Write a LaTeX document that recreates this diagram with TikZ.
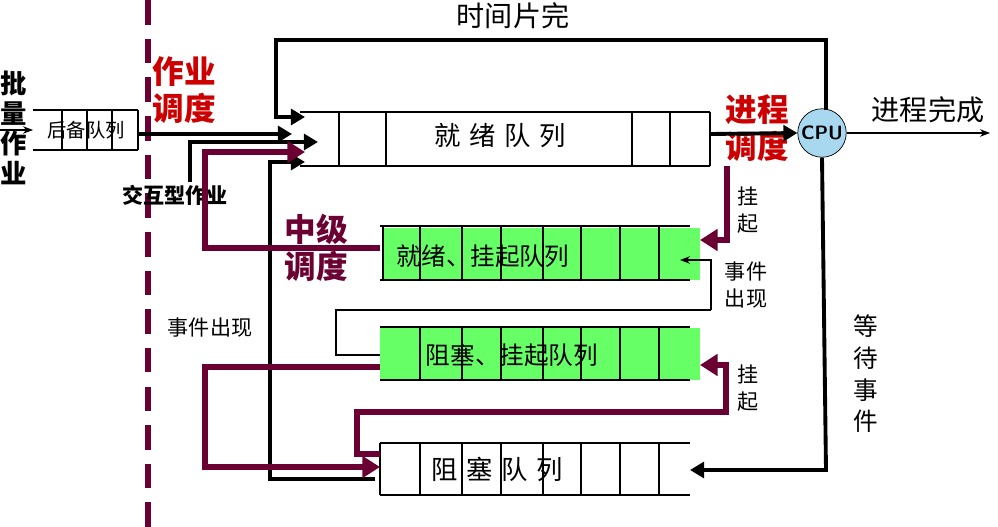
\documentclass[tikz,border=0pt]{standalone}
\usepackage{fontspec}
\setmainfont{Noto Sans CJK SC}
\usetikzlibrary{arrows.meta}
\definecolor{maroon}{HTML}{6B0032}
\definecolor{redlab}{HTML}{CC0000}
\definecolor{qgreen}{HTML}{66FF66}
\definecolor{cpublue}{HTML}{A8D8F0}
\tikzstyle{lab}=[font=\fontsize{12}{15}\selectfont, inner sep=0pt]
\tikzstyle{biglab}=[font=\bfseries\fontsize{18}{21}\selectfont, inner sep=0pt, align=center, text=redlab]
\tikzstyle{flow}=[line width=2.2pt, -{Triangle[length=8pt,width=9pt]}]
\tikzstyle{mflow}=[line width=3pt, maroon, -{Triangle[length=10pt,width=12pt]}]
\tikzstyle{thin}=[line width=0.6pt]

\begin{document}
\begin{tikzpicture}[x=0.02cm, y=-0.02cm]
  \useasboundingbox (0,0) rectangle (998,527);
  % dashed divider
  \draw[maroon, line width=3pt, dash pattern=on 14pt off 8pt] (148,0) -- (148,527);
  % backup queue
  \draw[thin] (33,110) -- (138,110) (33,150) -- (138,150);
  \foreach \x in {62,87,112,138} \draw[thin] (\x,110) -- (\x,150);
  \node[lab, font=\fontsize{11}{13}\selectfont] (backup) at (86,130) {后备队列};
  \node[lab, align=center, font=\bfseries\fontsize{15}{17}\selectfont] (batch) at (14,128) {批\\量\\作\\业};
  \coordinate (bin) at (33,130);
  \draw[thin, -{Stealth}] (0,130) -- (bin);
  % ready queue
  \draw[thin] (300,112) -- (710,112) (300,166) -- (710,166);
  \foreach \x in {339,386,632,670,710} \draw[thin] (\x,112) -- (\x,166);
  \node[lab, font=\fontsize{15}{17}\selectfont] (ready) at (500,136) {就\,\,绪\,\,队\,\,列};
  % ready suspend queue
  \fill[qgreen] (383,228) rectangle (700,280);
  \draw[thin] (380,226) -- (690,226) (380,280) -- (690,280);
  \foreach \x in {383,420,462,501,543,581,620,659} \draw[thin] (\x,226) -- (\x,280);
  \node[lab, font=\fontsize{14}{16}\selectfont] (rsusp) at (483,256) {就绪、挂起队列};
  % blocked suspend queue
  \fill[qgreen] (380,328) rectangle (700,380);
  \draw[thin] (380,327) -- (690,327) (380,380) -- (690,380);
  \foreach \x in {420,462,501,543,581,620,659} \draw[thin] (\x,327) -- (\x,380);
  \node[lab, font=\fontsize{14}{16}\selectfont] (bsusp) at (512,355) {阻塞、挂起队列};
  % blocked queue
  \draw[thin] (380,443) -- (690,443) (380,495) -- (690,495);
  \foreach \x in {380,420,462,501,543,581,620,659} \draw[thin] (\x,443) -- (\x,495);
  \node[lab, font=\fontsize{15}{17}\selectfont] (blocked) at (497,469) {阻\,\,塞\,\,队\,\,列};
  % CPU
  \node[circle, draw, fill=cpublue, minimum size=0.97cm, inner sep=0pt,
        font=\sffamily\bfseries\fontsize{11}{13}\selectfont] (cpu) at (822,133) {CPU};
  % labels
  \node[lab, font=\fontsize{16}{18}\selectfont] (slice) at (513,16) {时间片完};
  \node[lab, font=\fontsize{16}{18}\selectfont] (done) at (928,110) {进程完成};
  \node[biglab] (jsched) at (184,90) {作业\\调度};
  \node[biglab] (psched) at (757,128) {进程\\调度};
  \node[biglab, text=maroon] (msched) at (316,248) {中级\\调度};
  \node[lab, font=\bfseries\fontsize{12}{14}\selectfont] (inter) at (175,195) {交互型作业};
  \node[lab] (ev1) at (210,328) {事件出现};
  \node[lab, align=center] (ev2) at (746,285) {事件\\出现};
  \node[lab, align=center] (hang1) at (748,210) {挂\\起};
  \node[lab, align=center] (hang2) at (748,388) {挂\\起};
  \node[lab, align=center, font=\fontsize{14}{18}\selectfont] (wait) at (866,374) {等\\待\\事\\件};
  % black connectors
  \draw[flow] (138,134) -- (292,134);
  \draw[flow] (190,182) -- (190,142) -- (318,142);
  \draw[flow] (826,110) -- (826,40) -- (276,40) -- (276,117) -- (305,117);
  \draw[flow] (375,479) -- (270,479) -- (270,162) -- (305,162);
  \draw[flow] (710,134) -- (cpu.west);
  \draw[thin, -{Stealth}] (cpu.east) -- (990,133);
  \draw[flow] (cpu.south) -- (826,470) -- (690,470);
  \draw[thin, -{Stealth}] (711,310) -- (711,260) -- (680,260);
  \draw[thin] (711,310) -- (336,310) -- (336,355) -- (380,355);
  % maroon connectors
  \draw[mflow] (380,248) -- (205,248) -- (205,152) -- (305,152);
  \draw[mflow] (727,166) -- (727,240) -- (700,240);
  \draw[mflow] (380,367) -- (205,367) -- (205,467) -- (380,467);
  \draw[mflow] (380,454) -- (357,454) -- (357,412) -- (726,412) -- (726,365) -- (700,365);
\end{tikzpicture}
\end{document}
